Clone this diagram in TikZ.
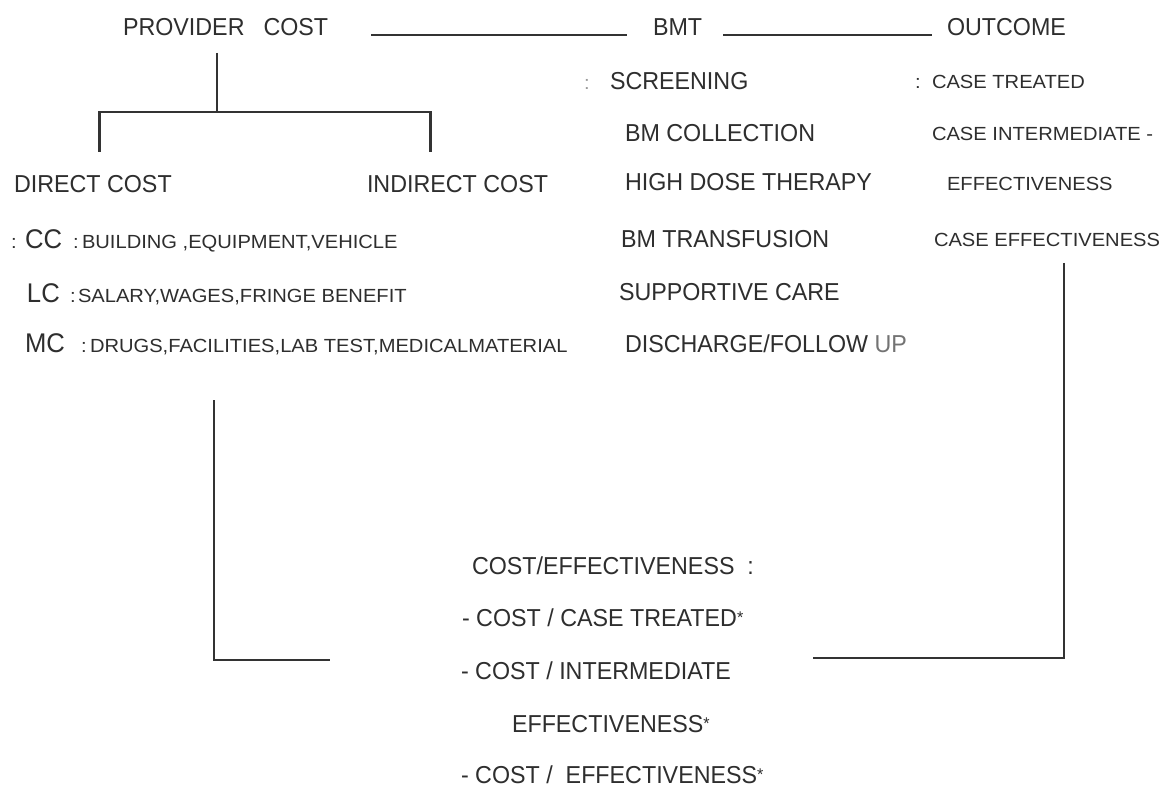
\documentclass[tikz,border=0pt]{standalone}
\usepackage{fontspec}
\setmainfont{Liberation Sans}[FakeStretch=0.95]
\newfontfamily\smallfam{Liberation Sans}[FakeStretch=1.06]
\newcommand\mystar{\raisebox{0.1em}{\fontsize{17}{17}\selectfont *}}
\tikzset{
  big/.style={anchor=base west, inner sep=0pt, outer sep=0pt, text=black!82, font=\fontsize{24.5}{29}\selectfont},
  bigger/.style={big, font=\fontsize{27}{31}\selectfont},
  sml/.style={anchor=base west, inner sep=0pt, outer sep=0pt, text=black!82, font=\smallfam\fontsize{19}{23}\selectfont},
  ln/.style={line width=2.4pt, draw=black!80},
}
\begin{document}
\begin{tikzpicture}[x=1pt,y=-1pt]
\useasboundingbox[fill=white] (0,0) rectangle (1164,786);
% top row
\node[big] (pc) at (123,36) {PROVIDER\hspace{19pt}COST};
\node[big] (bmt) at (653,36) {BMT};
\node[big] (out) at (947,36) {OUTCOME};
\coordinate (l1a) at (371,35); \coordinate (l1b) at (627,35);
\coordinate (l2a) at (723,35); \coordinate (l2b) at (932,35);
\draw[ln] (l1a) -- (l1b);
\draw[ln] (l2a) -- (l2b);
% provider cost bracket
\coordinate (pv1) at (217,53); \coordinate (pv2) at (217,112);
\coordinate (bl) at (99.5,112); \coordinate (br) at (430.5,112);
\coordinate (bld) at (99.5,152); \coordinate (brd) at (430.5,152);
\draw[ln] (pv1) -- (pv2);
\draw[ln] (bld) -- (bl) -- (br) -- (brd);
\node[big] (dc) at (14,193) {DIRECT COST};
\node[big] (ic) at (367,193) {INDIRECT COST};
% left details
\node[sml] (cc0) at (11,249) {:};
\node[bigger] (cc) at (25,249) {CC};
\node[sml] (cc1) at (73,249) {:};
\node[sml] (cct) at (82,249) {BUILDING ,EQUIPMENT,VEHICLE};
\node[bigger] (lc) at (27,302) {LC};
\node[sml] (lc1) at (70,302) {:};
\node[sml] (lct) at (78,302) {SALARY,WAGES,FRINGE BENEFIT};
\node[bigger] (mc) at (25,352) {MC};
\node[sml] (mc1) at (81,352) {:};
\node[sml] (mct) at (90,352) {DRUGS,FACILITIES,LAB TEST,MEDICALMATERIAL};
% BMT column
\node[sml, text=black!40] (bc) at (584,90) {:};
\node[big] (s1) at (610,90) {SCREENING};
\node[big] (s2) at (625,142) {BM COLLECTION};
\node[big] (s3) at (625,191) {HIGH DOSE THERAPY};
\node[big] (s4) at (621,248) {BM TRANSFUSION};
\node[big] (s5) at (619,300) {SUPPORTIVE CARE};
\node[big] (s6) at (625,352) {DISCHARGE/FOLLOW {\color{black!55}UP}};
% outcome column
\node[sml] (oc) at (915,89) {:};
\node[sml] (o1) at (932,89) {CASE TREATED};
\node[sml] (o2) at (932,141) {CASE INTERMEDIATE -};
\node[sml] (o3) at (947,191) {EFFECTIVENESS};
\node[sml] (o4) at (934,247) {CASE EFFECTIVENESS};
% bottom connectors
\coordinate (lv1) at (214,400); \coordinate (lv2) at (214,660); \coordinate (lh) at (330,660);
\draw[ln] (lv1) -- (lv2) -- (lh);
\coordinate (rv1) at (1064,263); \coordinate (rv2) at (1064,658); \coordinate (rh) at (813,658);
\draw[ln] (rv1) -- (rv2) -- (rh);
% bottom text
\node[big] (ce) at (472,574) {COST/EFFECTIVENESS\ \ :};
\node[big] (ce1) at (462,626) {- COST / CASE TREATED\mystar};
\node[big] (ce2) at (461,679) {- COST / INTERMEDIATE};
\node[big] (ce3) at (512,732) {EFFECTIVENESS\mystar};
\node[big] (ce4) at (461,783) {- COST /\ \ EFFECTIVENESS\mystar};
\end{tikzpicture}
\end{document}
